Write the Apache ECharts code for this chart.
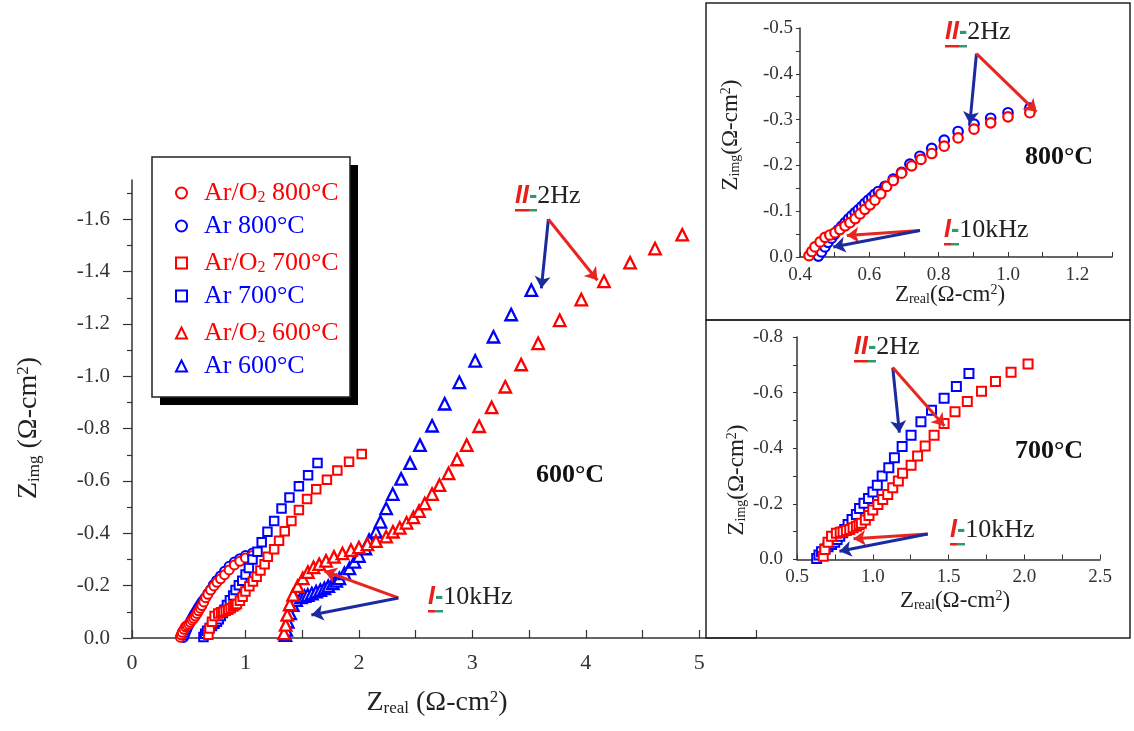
<!DOCTYPE html>
<html><head><meta charset="utf-8">
<script src="https://cdn.jsdelivr.net/npm/echarts@6/dist/echarts.min.js"></script>
<style>html,body{margin:0;padding:0;background:#fff}#c{width:1134px;height:731px}</style>
</head><body><div id="c"></div>
<script>
// ---------- data (Zreal, Zimg) in Ω-cm² ----------
const ar800 = [[0.453,-0.002],[0.462,-0.011],[0.472,-0.022],[0.481,-0.032],[0.491,-0.041],[0.500,-0.050],[0.510,-0.059],[0.520,-0.067],[0.530,-0.075],[0.540,-0.083],[0.549,-0.090],[0.559,-0.097],[0.568,-0.103],[0.578,-0.110],[0.587,-0.117],[0.597,-0.124],[0.607,-0.130],[0.616,-0.137],[0.626,-0.143],[0.645,-0.154],[0.669,-0.170],[0.693,-0.185],[0.717,-0.203],[0.746,-0.220],[0.780,-0.237],[0.816,-0.255],[0.856,-0.274],[0.902,-0.290],[0.950,-0.303],[1.000,-0.315],[1.063,-0.325]];
const arO2_800 = [[0.426,-0.003],[0.434,-0.012],[0.443,-0.022],[0.458,-0.033],[0.472,-0.043],[0.486,-0.048],[0.501,-0.053],[0.515,-0.060],[0.530,-0.068],[0.544,-0.075],[0.559,-0.084],[0.573,-0.094],[0.587,-0.104],[0.602,-0.114],[0.616,-0.124],[0.633,-0.138],[0.650,-0.154],[0.669,-0.167],[0.693,-0.183],[0.722,-0.199],[0.749,-0.213],[0.780,-0.226],[0.816,-0.242],[0.856,-0.260],[0.902,-0.279],[0.950,-0.293],[1.000,-0.306],[1.063,-0.315]];
const ar700 = [[0.630,-0.004],[0.645,-0.016],[0.662,-0.028],[0.685,-0.038],[0.705,-0.046],[0.728,-0.054],[0.749,-0.062],[0.765,-0.072],[0.782,-0.084],[0.800,-0.096],[0.815,-0.108],[0.837,-0.126],[0.863,-0.144],[0.892,-0.162],[0.913,-0.183],[0.942,-0.202],[0.972,-0.219],[1.001,-0.243],[1.030,-0.267],[1.062,-0.300],[1.106,-0.330],[1.143,-0.366],[1.194,-0.406],[1.253,-0.447],[1.318,-0.495],[1.388,-0.537],[1.471,-0.580],[1.552,-0.622],[1.635,-0.669]];
const arO2_700 = [[0.673,-0.012],[0.684,-0.036],[0.705,-0.062],[0.728,-0.084],[0.760,-0.094],[0.785,-0.098],[0.804,-0.100],[0.826,-0.104],[0.848,-0.108],[0.870,-0.114],[0.892,-0.120],[0.910,-0.125],[0.925,-0.130],[0.951,-0.142],[0.975,-0.158],[1.000,-0.178],[1.034,-0.198],[1.066,-0.216],[1.099,-0.234],[1.132,-0.258],[1.169,-0.282],[1.197,-0.310],[1.253,-0.339],[1.296,-0.372],[1.346,-0.408],[1.405,-0.447],[1.471,-0.489],[1.543,-0.531],[1.624,-0.568],[1.718,-0.605],[1.810,-0.640],[1.913,-0.673],[2.025,-0.703]];
const ar600 = [[1.352,-0.011],[1.359,-0.031],[1.373,-0.062],[1.394,-0.094],[1.417,-0.126],[1.447,-0.145],[1.490,-0.155],[1.520,-0.160],[1.549,-0.164],[1.585,-0.170],[1.623,-0.177],[1.660,-0.183],[1.696,-0.190],[1.730,-0.198],[1.770,-0.209],[1.800,-0.218],[1.828,-0.228],[1.872,-0.247],[1.916,-0.266],[1.960,-0.291],[2.000,-0.313],[2.057,-0.342],[2.090,-0.374],[2.150,-0.406],[2.190,-0.444],[2.240,-0.495],[2.298,-0.550],[2.372,-0.608],[2.451,-0.668],[2.538,-0.737],[2.645,-0.811],[2.756,-0.895],[2.885,-0.977],[3.025,-1.059],[3.186,-1.151],[3.342,-1.236],[3.520,-1.329]];
const arO2_600 = [[1.340,-0.018],[1.355,-0.050],[1.368,-0.088],[1.390,-0.128],[1.420,-0.165],[1.460,-0.198],[1.505,-0.228],[1.550,-0.252],[1.600,-0.270],[1.650,-0.282],[1.710,-0.295],[1.780,-0.310],[1.855,-0.323],[1.930,-0.336],[2.000,-0.346],[2.075,-0.358],[2.150,-0.370],[2.240,-0.387],[2.300,-0.406],[2.360,-0.421],[2.420,-0.440],[2.480,-0.461],[2.530,-0.485],[2.580,-0.514],[2.645,-0.550],[2.710,-0.584],[2.790,-0.629],[2.865,-0.682],[2.950,-0.737],[3.060,-0.809],[3.170,-0.881],[3.290,-0.960],[3.430,-1.045],[3.580,-1.126],[3.770,-1.214],[3.960,-1.293],[4.160,-1.363],[4.390,-1.434],[4.610,-1.488],[4.850,-1.541]];

// ---------- tick labels ----------
const xTicksMain = [0,1,2,3,4,5];
const yTicksMain = [-1.6,-1.4,-1.2,-1.0,-0.8,-0.6,-0.4,-0.2,0];
const yMinorMain = [-1.7,-1.5,-1.3,-1.1,-0.9,-0.7,-0.5,-0.3,-0.1];
const xTicksIn1 = [0.4,0.6,0.8,1.0,1.2];
const yTicksIn1 = [-0.5,-0.4,-0.3,-0.2,-0.1,0];
const xTicksIn2 = [0.5,1.0,1.5,2.0,2.5];
const yTicksIn2 = [-0.8,-0.6,-0.4,-0.2,0];

// ---------- legend ----------
const legendNames = ['Ar/O2 800°C','Ar 800°C','Ar/O2 700°C','Ar 700°C','Ar/O2 600°C','Ar 600°C'];
const RED = '#ff0000', BLUE = '#0000ff';
const legendColors = [RED, BLUE, RED, BLUE, RED, BLUE];

// ---------- annotation arrows (data coords: [from, to]) ----------
const AR_RED = '#e8261f', AR_BLUE = '#1b2a9e';
const arrowsMain = [
  [[3.67,-1.60],[3.608,-1.336],AR_BLUE],[[3.67,-1.60],[4.102,-1.367],AR_RED],
  [[2.348,-0.153],[1.696,-0.256],AR_RED],[[2.348,-0.153],[1.581,-0.088],AR_BLUE]];
const arrowsIn1 = [
  [[0.909,-0.444],[0.890,-0.291],AR_BLUE],[[0.909,-0.444],[1.082,-0.317],AR_RED],
  [[0.746,-0.058],[0.535,-0.047],AR_RED],[[0.746,-0.058],[0.496,-0.022],AR_BLUE]];
const arrowsIn2 = [
  [[1.132,-0.690],[1.176,-0.456],AR_BLUE],[[1.132,-0.690],[1.473,-0.480],AR_RED],
  [[1.363,-0.092],[0.873,-0.075],AR_RED],[[1.363,-0.092],[0.780,-0.030],AR_BLUE]];

const SERIF = 'Liberation Serif';
const SANS = 'Liberation Sans';

function markArrows(list) {
  return {
    silent: true, animation: false, symbol: ['none','arrow'], symbolSize: 12,
    label: {show: false}, emphasis: {disabled: true}, z: 6,
    data: list.map(a => [{coord: a[0], lineStyle: {color: a[2], width: 3, type: 'solid'}, itemStyle: {color: a[2]}}, {coord: a[1]}])
  };
}
function sc(name, data, symbol, size, color, gi, bw, arrows) {
  const s = {type: 'scatter', name, data, xAxisIndex: gi, yAxisIndex: gi, symbol, symbolSize: size,
    itemStyle: {color: '#fff', borderColor: color, borderWidth: bw, opacity: 1},
    emphasis: {disabled: true}, silent: true, animation: false};
  if (arrows) s.markLine = markArrows(arrows);
  return s;
}
function axisCommon(o) {
  return Object.assign({
    type: 'value', splitLine: {show: false},
    axisLine: {show: true, onZero: false, lineStyle: {color: '#333', width: 1.5}},
  }, o);
}
const fmt1 = v => v.toFixed(1);

function anno(x, y, roman, label, rw) {
  return {
    type: 'text', x, y, z: 100, silent: true,
    style: {
      text: '{r|' + roman + '}{g|-}{k|' + label + '}\n{ru|}{gu|}',
      align: 'left', verticalAlign: 'top', textAlign: 'left', textVerticalAlign: 'top',
      fontFamily: SERIF, fontSize: 25, fill: '#222',
      rich: {
        r: {fontFamily: SANS, fontWeight: 'bold', fontStyle: 'italic', fontSize: 25, fill: '#e8201c', color: '#e8201c', lineHeight: 25},
        g: {fontFamily: SANS, fontWeight: 'bold', fontSize: 25, fill: '#2e9b6c', color: '#2e9b6c', lineHeight: 25},
        k: {fontFamily: SERIF, fontSize: 26, fill: '#222', color: '#222', lineHeight: 25},
        ru: {width: rw, height: 2.5, lineHeight: 2.5, backgroundColor: '#e8201c'},
        gu: {width: 8, height: 2.5, lineHeight: 2.5, backgroundColor: '#2e9b6c'}
      }
    }
  };
}
function axisName(x, y, sub, space, fs, rot) {
  const ssz = Math.round(fs * 0.6);
  const H = Math.round(fs * 1.5);
  return {
    type: 'text', x, y, rotation: rot ? Math.PI / 2 : 0, z: 100, silent: true,
    style: {
      text: '{n|Z}{sub|' + sub + '}{n|' + space + '(Ω-cm}{sup|2}{n|)}',
      align: 'center', verticalAlign: 'middle', textAlign: 'center', textVerticalAlign: 'middle',
      fontFamily: SERIF, fontSize: fs, fill: '#222',
      rich: {
        n: {fontFamily: SERIF, fontSize: fs, lineHeight: fs, fill: '#222', color: '#222'},
        sub: {fontFamily: SERIF, fontSize: ssz, lineHeight: 10, padding: [H - 10, 0, 0, 0], verticalAlign: 'bottom', fill: '#222', color: '#222'},
        sup: {fontFamily: SERIF, fontSize: ssz, lineHeight: 10, padding: [0, 0, 0, 0], verticalAlign: 'top', fill: '#222', color: '#222'}
      }
    }
  };
}
function tempLabel(x, y, t) {
  return {type: 'text', x, y, z: 100, silent: true,
    style: {text: t, align: 'center', verticalAlign: 'middle', textAlign: 'center', textVerticalAlign: 'middle',
      fontFamily: SERIF, fontWeight: 'bold', fontSize: 26, fill: '#111'}};
}

const chart = echarts.init(document.getElementById('c'), null, {renderer: 'canvas'});
chart.setOption({
  animation: false,
  backgroundColor: '#fff',
  grid: [
    {left: 132, top: 180, width: 624, height: 458},
    {left: 800, top: 28, width: 312, height: 229},
    {left: 797, top: 337, width: 303, height: 222.5}
  ],
  xAxis: [
    axisCommon({gridIndex: 0, min: 0, max: 5.5, interval: 0.5,
      axisTick: {show: true, inside: true, length: 8, lineStyle: {color: '#333', width: 1.2}},
      axisLabel: {customValues: xTicksMain, fontFamily: SERIF, fontSize: 22, color: '#333', margin: 14, formatter: v => String(v)}}),
    axisCommon({gridIndex: 1, min: 0.4, max: 1.3, interval: 0.1,
      axisTick: {show: true, inside: true, length: 5, lineStyle: {color: '#333', width: 1}},
      axisLabel: {customValues: xTicksIn1, fontFamily: SERIF, fontSize: 19, color: '#333', margin: 9, formatter: fmt1}}),
    axisCommon({gridIndex: 2, min: 0.5, max: 2.5, interval: 0.25,
      axisTick: {show: true, inside: true, length: 5, lineStyle: {color: '#333', width: 1}},
      axisLabel: {customValues: xTicksIn2, fontFamily: SERIF, fontSize: 19, color: '#333', margin: 8, formatter: fmt1}})
  ],
  yAxis: [
    axisCommon({gridIndex: 0, min: -1.75, max: 0, inverse: true, position: 'left',
      axisTick: {show: true, customValues: yTicksMain, length: 9, lineStyle: {color: '#333', width: 1.2}},
      axisLabel: {customValues: yTicksMain, fontFamily: SERIF, fontSize: 21, color: '#333', margin: 22, formatter: fmt1}}),
    axisCommon({gridIndex: 1, min: -0.5, max: 0, interval: 0.05, inverse: true, position: 'left',
      axisTick: {show: true, length: 4, lineStyle: {color: '#333', width: 1}},
      axisLabel: {customValues: yTicksIn1, fontFamily: SERIF, fontSize: 19, color: '#333', margin: 7, formatter: fmt1}}),
    axisCommon({gridIndex: 2, min: -0.8, max: 0, interval: 0.1, inverse: true, position: 'left',
      axisTick: {show: true, length: 4, lineStyle: {color: '#333', width: 1}},
      axisLabel: {customValues: yTicksIn2, fontFamily: SERIF, fontSize: 19, color: '#333', margin: 14, formatter: fmt1}}),
    {type: 'value', gridIndex: 0, min: -1.75, max: 0, inverse: true, position: 'left',
      splitLine: {show: false}, axisLine: {show: false}, axisLabel: {show: false},
      axisTick: {show: true, customValues: yMinorMain, length: 5, lineStyle: {color: '#333', width: 1.2}}}
  ],
  legend: {
    orient: 'vertical', left: 152, top: 157, padding: [19, 20, 17, 23], itemGap: 7,
    itemWidth: 11, itemHeight: 11, selectedMode: false, z: 10,
    data: legendNames.map((n, i) => ({name: n, textStyle: {color: legendColors[i]}})),
    formatter: n => n.replace('O2', 'O{sub|2}'),
    textStyle: {fontFamily: SERIF, fontSize: 26, lineHeight: 26, padding: [0, 0, 0, 12],
      rich: {sub: {fontFamily: SERIF, fontSize: 16, lineHeight: 12, padding: [14, 0, 0, 0], verticalAlign: 'bottom'}}}
  },
  series: [
    sc('Ar 800°C', ar800, 'circle', 9, BLUE, 0, 2),
    sc('Ar/O2 800°C', arO2_800, 'circle', 9, RED, 0, 2),
    sc('Ar 700°C', ar700, 'rect', 8.5, BLUE, 0, 2),
    sc('Ar/O2 700°C', arO2_700, 'rect', 8.5, RED, 0, 2),
    sc('Ar 600°C', ar600, 'triangle', 11.5, BLUE, 0, 2.3),
    sc('Ar/O2 600°C', arO2_600, 'triangle', 11.5, RED, 0, 2.3, arrowsMain),
    sc('Ar 800°C', ar800, 'circle', 9.5, BLUE, 1, 2.2),
    sc('Ar/O2 800°C', arO2_800, 'circle', 9.5, RED, 1, 2.2, arrowsIn1),
    sc('Ar 700°C', ar700, 'rect', 9, BLUE, 2, 2),
    sc('Ar/O2 700°C', arO2_700, 'rect', 9, RED, 2, 2, arrowsIn2)
  ],
  graphic: [
    {type: 'rect', shape: {x: 160, y: 165, width: 198, height: 240}, style: {fill: '#000'}, z: 1, silent: true},
    {type: 'rect', shape: {x: 152, y: 157, width: 198, height: 240}, style: {fill: '#fff', stroke: '#222', lineWidth: 1.5}, z: 2, silent: true},
    {type: 'rect', shape: {x: 706, y: 3, width: 424, height: 317}, style: {fill: 'none', stroke: '#222', lineWidth: 1.5}, z: 50, silent: true},
    {type: 'rect', shape: {x: 706, y: 320, width: 424, height: 318}, style: {fill: 'none', stroke: '#222', lineWidth: 1.5}, z: 50, silent: true},
    axisName(437, 703, 'real', ' ', 28, false),
    axisName(29, 428, 'img', ' ', 28, true),
    axisName(950, 295, 'real', '', 23, false),
    axisName(731, 135, 'img', '', 23, true),
    axisName(955, 601, 'real', '', 23, false),
    axisName(737, 480, 'img', '', 23, true),
    tempLabel(570, 475, '600°C'),
    tempLabel(1059, 157, '800°C'),
    tempLabel(1049, 451, '700°C'),
    anno(515, 184, 'II', '2Hz', 14),
    anno(428, 585, 'I', '10kHz', 7),
    anno(945, 20, 'II', '2Hz', 14),
    anno(944, 218, 'I', '10kHz', 7),
    anno(854, 335, 'II', '2Hz', 14),
    anno(950, 518, 'I', '10kHz', 7)
  ]
});
</script></body></html>
